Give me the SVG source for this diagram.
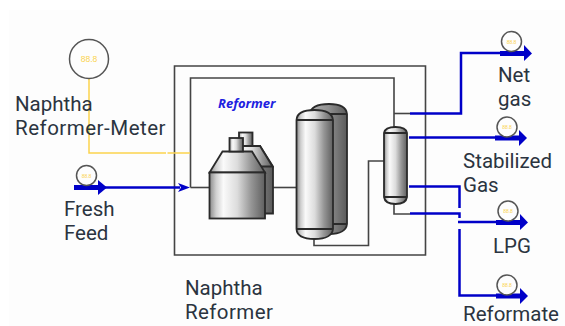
<svg xmlns="http://www.w3.org/2000/svg" width="565" height="326" viewBox="0 0 565 326">
<style>
.lbl{font-family:Roboto,"Open Sans",sans-serif;font-size:20.500px;fill:#2b3440}
.eq{stroke:#2a2a2a;stroke-width:1.8}
.wire{fill:none;stroke:#444;stroke-width:1.6}
.flow{fill:none;stroke:#0000c8;stroke-width:2.5}
.thick{fill:none;stroke:#0000c8;stroke-width:5}
.head{fill:#0000c8}
.sm{fill:#fdfdfd;stroke:#555;stroke-width:1.5}
.mt{font-family:"Liberation Sans",sans-serif;fill:#fbd34d;text-anchor:middle}
</style>
<defs>
<linearGradient id="g" x1="0" x2="1" y1="0" y2="0">
<stop offset="0" stop-color="#8a8a8a"/><stop offset=".12" stop-color="#d0d0d0"/><stop offset=".25" stop-color="#fafafa"/><stop offset=".5" stop-color="#dcdcdc"/><stop offset=".75" stop-color="#969696"/><stop offset="1" stop-color="#5f5f5f"/>
</linearGradient>
<linearGradient id="gd" x1="0" x2="1" y1="0" y2="0">
<stop offset="0" stop-color="#b0b0b0"/><stop offset=".5" stop-color="#909090"/><stop offset="1" stop-color="#5a5a5a"/>
</linearGradient>
</defs>
<rect width="565" height="326" fill="#fff"/>
<rect x="9" y="10" width="556" height="316" fill="#fdfdfd"/>
<g id="connectors">
<path class="wire" d="M174.500 66H425.500V255H174.500Z"/>
<path class="wire" d="M190.500 187.500V78H394V127"/>
<path class="wire" d="M394 113.500H410"/>
<path class="wire" d="M190.500 187.500H209"/>
<path class="wire" d="M265 187.500H296"/>
<path class="wire" d="M314 239V245.500H368.500V161H384"/>
<path class="wire" d="M394 204V214H410"/>
<path d="M89 79V153H166M167.500 153H190" fill="none" stroke="#fbd34d" stroke-width="1.500"/>
<path class="flow" d="M410 113.500H461V53H500"/>
<path class="flow" d="M409 137.500H496"/>
<path class="flow" d="M409 186.500H459.500V208"/>
<path class="flow" d="M410 213.500H459.500V218"/>
<path class="flow" d="M458 222H497"/>
<path class="flow" d="M459.500 229V295.500H497"/>
<path class="flow" d="M105 187.500H180"/>
<path class="thick" d="M74 187.500H100"/>
<path class="thick" d="M500 53.500H525"/>
<path class="thick" d="M495 138H521"/>
<path class="thick" d="M496 222.500H522"/>
<path class="thick" d="M496 296H522"/>
<path class="head" d="M98 180L107 187.500L98 195Z"/>
<path class="head" d="M524 45L532 53.500L524 61Z"/>
<path class="head" d="M519 130L527 138L519 146Z"/>
<path class="head" d="M520 214L528 222.500L520 230Z"/>
<path class="head" d="M520 288L528 296L520 304Z"/>
<path class="head" d="M178 183L190 187.500L178 192L181 187.500Z"/>
</g>
<g id="meter">
<circle cx="89" cy="59" r="19.500" fill="#fdfdfd" stroke="#555" stroke-width="1.500"/>
<text class="mt" x="89" y="62" font-size="8.500">88.8</text>
<text class="lbl" x="15" y="111">Naphtha</text>
<text class="lbl" x="15" y="135" letter-spacing=".5">Reformer-Meter</text>
</g>
<g id="fresh-feed">
<circle class="sm" cx="86.500" cy="175.500" r="10"/>
<text class="mt" x="86.500" y="177.500" font-size="5">88.8</text>
<text class="lbl" x="64" y="216">Fresh</text>
<text class="lbl" x="64" y="240">Feed</text>
</g>
<g id="net-gas">
<circle class="sm" cx="511.500" cy="41.500" r="10"/>
<text class="mt" x="511.500" y="43.500" font-size="5">88.8</text>
<text class="lbl" x="498" y="82">Net</text>
<text class="lbl" x="498" y="106">gas</text>
</g>
<g id="stabilized-gas">
<circle class="sm" cx="507" cy="127" r="10"/>
<text class="mt" x="507" y="129" font-size="5">88.8</text>
<text class="lbl" x="463" y="168">Stabilized</text>
<text class="lbl" x="463" y="192">Gas</text>
</g>
<g id="lpg">
<circle class="sm" cx="508" cy="211" r="10"/>
<text class="mt" x="508" y="213" font-size="5">88.8</text>
<text class="lbl" x="493" y="253">LPG</text>
</g>
<g id="reformate">
<circle class="sm" cx="507" cy="285" r="10"/>
<text class="mt" x="507" y="287" font-size="5">88.8</text>
<text class="lbl" x="463" y="320.500">Reformate</text>
</g>
<g id="naphtha-reformer">
<text x="218" y="108" font-family="'Open Sans',sans-serif" font-size="13" font-weight="bold" font-style="italic" fill="#2020e0">Reformer</text>
<text class="lbl" x="185" y="295">Naphtha</text>
<text class="lbl" x="185" y="319" letter-spacing=".4">Reformer</text>
</g>
<g id="furnace">
<rect class="eq" x="239" y="132.500" width="13.500" height="13.500" fill="url(#g)"/>
<path class="eq" d="M232 146H260L273 166.500V213.500H250V146Z" fill="url(#gd)"/>
<path class="eq" d="M232 146H260L272.500 166.500H232Z" fill="url(#g)"/>
<path class="eq" d="M222.500 151.500H252L265 172.500H209.500Z" fill="url(#g)"/>
<rect class="eq" x="229.500" y="138" width="13.500" height="13.500" fill="url(#g)"/>
<rect class="eq" x="209.500" y="172.500" width="55.500" height="46" fill="url(#g)"/>
</g>
<g id="reactor">
<path class="eq" d="M310 114Q311 104 329 104Q346 104 347 114V224Q346 234 329 234Q312 234 310 224Z" fill="url(#gd)"/>
<path class="eq" d="M310 114H347M310 224H347" fill="none"/>
<path class="eq" d="M296.500 120Q297 110 314.500 110Q332 110 333 120V229Q332 239 314.500 239Q297 239 296.500 229Z" fill="url(#g)"/>
<path class="eq" d="M296.500 120H333M296.500 229H333" fill="none"/>
</g>
<g id="stabilizer">
<path class="eq" d="M384 133Q385 127 395.500 127Q406 127 407 133V197Q406 204 395.500 204Q385 204 384 197Z" fill="url(#g)"/>
<path class="eq" d="M384 133H407M384 197H407" fill="none"/>
</g>
</svg>
